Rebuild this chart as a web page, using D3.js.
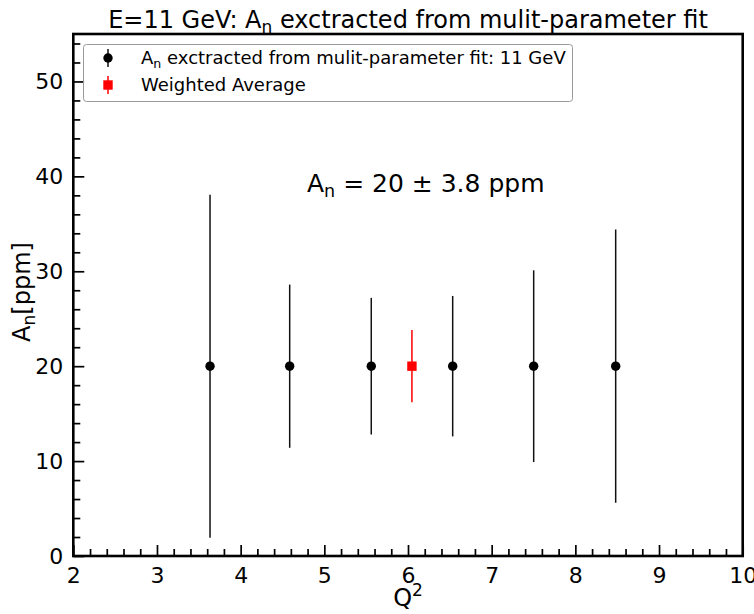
<!DOCTYPE html>
<html><head><meta charset="utf-8">
<script src="https://cdn.jsdelivr.net/npm/d3@7"></script>
<style>
body{margin:0;background:#fff;}
svg{display:block;font-family:"DejaVu Sans",sans-serif;}
</style></head>
<body>
<svg id="c" width="754" height="614"></svg>
<script>
const q2 = [3.634, 4.586, 5.561, 6.534, 7.502, 8.482];
const an = [20, 20, 20, 20, 20, 20];
const anErr = [18.07, 8.6, 7.2, 7.4, 10.1, 14.4];
const avgQ2 = [6.047];
const avgAn = [20];
const avgErr = [3.8];
const xTicks = [2, 3, 4, 5, 6, 7, 8, 9, 10];
const yTicks = [0, 10, 20, 30, 40, 50];

const svg = d3.select("#c");
const L = 73.3, R = 742.7, T = 34, B = 556;
const x = d3.scaleLinear().domain([2, 10]).range([L, R]);
const y = d3.scaleLinear().domain([0, 55]).range([B, T]);

const xMinor = d3.range(2, 10.001, 0.2).filter(v => Math.abs(v - Math.round(v)) > 1e-6);
const yMinor = d3.range(0, 55.001, 2).filter(v => v % 10 !== 0);

const gx = svg.append("g").attr("transform", `translate(0,${B})`);
gx.call(d3.axisBottom(x).tickValues(xTicks).tickFormat(d3.format("d")).tickSizeInner(-11).tickSizeOuter(0).tickPadding(11));
gx.append("g").call(d3.axisBottom(x).tickValues(xMinor).tickFormat("").tickSizeInner(-7).tickSizeOuter(0));
const gy = svg.append("g").attr("transform", `translate(${L},0)`);
gy.call(d3.axisLeft(y).tickValues(yTicks).tickFormat(d3.format("d")).tickSizeInner(-11).tickSizeOuter(0).tickPadding(10));
gy.append("g").call(d3.axisLeft(y).tickValues(yMinor).tickFormat("").tickSizeInner(-7).tickSizeOuter(0));
svg.selectAll(".domain").remove();
svg.selectAll(".tick line").attr("stroke", "#000").attr("stroke-width", 1.7);
svg.selectAll(".tick text").attr("font-size", 22).attr("fill", "#000").attr("font-family", "DejaVu Sans");

svg.append("rect").attr("x", L).attr("y", T).attr("width", R - L).attr("height", B - T)
  .attr("fill", "none").attr("stroke", "#000").attr("stroke-width", 2.6);

const pts = q2.map((d, i) => ({q: d, a: an[i], e: anErr[i]}));
svg.append("g").selectAll("line").data(pts).join("line")
  .attr("x1", d => x(d.q)).attr("x2", d => x(d.q))
  .attr("y1", d => y(d.a - d.e)).attr("y2", d => y(d.a + d.e))
  .attr("stroke", "#111").attr("stroke-width", 1.5);
svg.append("g").selectAll("circle").data(pts).join("circle")
  .attr("cx", d => x(d.q)).attr("cy", d => y(d.a)).attr("r", 4.7).attr("fill", "#000");

const avg = avgQ2.map((d, i) => ({q: d, a: avgAn[i], e: avgErr[i]}));
svg.append("g").selectAll("line").data(avg).join("line")
  .attr("x1", d => x(d.q)).attr("x2", d => x(d.q))
  .attr("y1", d => y(d.a - d.e)).attr("y2", d => y(d.a + d.e))
  .attr("stroke", "#ff0000").attr("stroke-width", 1.5);
svg.append("g").selectAll("rect").data(avg).join("rect")
  .attr("x", d => x(d.q) - 4.7).attr("y", d => y(d.a) - 4.7).attr("width", 9.4).attr("height", 9.4)
  .attr("fill", "#ff0000");

const title = svg.append("text").attr("x", (L + R) / 2).attr("y", 28).attr("text-anchor", "middle")
  .attr("font-size", 24).attr("fill", "#000");
title.append("tspan").text("E=11 GeV: A");
title.append("tspan").attr("font-size", 17).attr("dy", 5).text("n");
title.append("tspan").attr("dy", -5).text(" exctracted from mulit-parameter fit");

const ann = svg.append("text").attr("x", 307).attr("y", 192).attr("font-size", 25).attr("fill", "#000");
ann.append("tspan").text("A");
ann.append("tspan").attr("font-size", 17.5).attr("dy", 5).text("n");
ann.append("tspan").attr("dy", -5).text(" = 20 \u00b1 3.8 ppm");

const xl = svg.append("text").attr("x", 408).attr("y", 606).attr("text-anchor", "middle").attr("font-size", 24);
xl.append("tspan").text("Q");
xl.append("tspan").attr("font-size", 17).attr("dy", -10).text("2");

const yl = svg.append("text").attr("transform", "translate(30,292) rotate(-90)").attr("text-anchor", "middle").attr("font-size", 24);
yl.append("tspan").text("A");
yl.append("tspan").attr("font-size", 17).attr("dy", 5).text("n");
yl.append("tspan").attr("dy", -5).text("[ppm]");

const lg = svg.append("g");
lg.append("rect").attr("x", 83.5).attr("y", 44.5).attr("width", 489).attr("height", 57).attr("rx", 3)
  .attr("fill", "#fff").attr("fill-opacity", 0.8).attr("stroke", "#999").attr("stroke-width", 1);
const ly1 = 58, ly2 = 85, lx = 108;
lg.append("line").attr("x1", lx).attr("x2", lx).attr("y1", ly1 - 9).attr("y2", ly1 + 9).attr("stroke", "#111").attr("stroke-width", 1.5);
lg.append("circle").attr("cx", lx).attr("cy", ly1).attr("r", 4.7).attr("fill", "#000");
lg.append("line").attr("x1", lx).attr("x2", lx).attr("y1", ly2 - 9).attr("y2", ly2 + 9).attr("stroke", "#ff0000").attr("stroke-width", 1.5);
lg.append("rect").attr("x", lx - 4.7).attr("y", ly2 - 4.7).attr("width", 9.4).attr("height", 9.4).attr("fill", "#ff0000");
const t1 = lg.append("text").attr("x", 141).attr("y", ly1 + 6.3).attr("font-size", 18);
t1.append("tspan").text("A");
t1.append("tspan").attr("font-size", 12.6).attr("dy", 3.5).text("n");
t1.append("tspan").attr("dy", -3.5).text(" exctracted from mulit-parameter fit: 11 GeV");
lg.append("text").attr("x", 141).attr("y", ly2 + 6.3).attr("font-size", 18).text("Weighted Average");
</script>
</body></html>
